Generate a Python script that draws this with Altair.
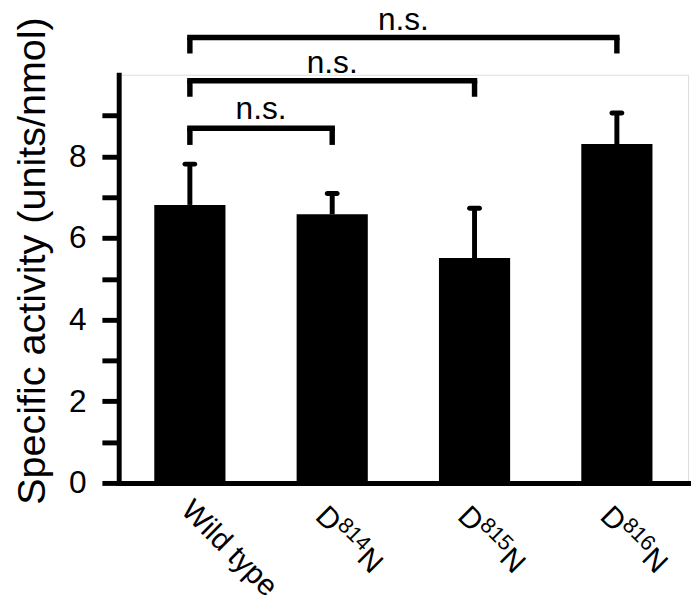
import altair as alt
import pandas as pd

FONT = "Liberation Sans"

# ---- data ----
label_base = ["Wild type", "D", "D", "D"]
label_sup = ["", "814", "815", "816"]
label_tail = ["", "N", "N", "N"]
activity = [6.81, 6.58, 5.51, 8.30]
error = [1.00, 0.51, 1.22, 0.76]

# significance brackets (category index from / to, bracket height, leg length, label)
bracket_from = [0, 0, 0]
bracket_to = [1, 2, 3]
bracket_level = [8.69, 9.85, 10.91]
bracket_leg = [0.41, 0.39, 0.39]
bracket_text = ["n.s.", "n.s.", "n.s."]
text_level = [8.91, 10.05, 11.09]

# ---- tables ----
n = len(label_base)
bars = pd.DataFrame({
    "pos": list(range(n)),
    "base": label_base,
    "sup": label_sup,
    "tail": label_tail,
    "value": activity,
    "err": error,
})
bars["x0"] = bars["pos"] - 0.25
bars["x1"] = bars["pos"] + 0.25
bars["top"] = bars["value"] + bars["err"]
bars["zero"] = 0.0

br = pd.DataFrame({
    "from": bracket_from,
    "to": bracket_to,
    "level": bracket_level,
    "leg": bracket_leg,
    "text": bracket_text,
    "tlevel": text_level,
})
br["bottom"] = br["level"] - br["leg"]
br["mid"] = (br["from"] + br["to"]) / 2

legs = pd.concat([
    pd.DataFrame({"x": br["from"], "level": br["level"], "bottom": br["bottom"]}),
    pd.DataFrame({"x": br["to"], "level": br["level"], "bottom": br["bottom"]}),
], ignore_index=True)

xscale = alt.Scale(domain=[-0.5, n - 0.5], nice=False, zero=False)
yscale = alt.Scale(domain=[0, 10], nice=False, zero=True)

xaxis = alt.Axis(
    values=list(range(n)),
    labels=False,
    ticks=False,
    grid=False,
    domainColor="black",
    domainWidth=5,
    domainCap="square",
    title=None,
)

yaxis = alt.Axis(
    values=list(range(10)),
    labelExpr="datum.value % 2 === 0 ? datum.label : ''",
    labelFontSize=32,
    labelFont=FONT,
    labelColor="black",
    labelPadding=16,
    tickSize=17,
    tickWidth=5,
    tickColor="black",
    domainColor="black",
    domainWidth=5,
    domainCap="square",
    grid=False,
    title="Specific activity (units/nmol)",
    titleFont=FONT,
    titleFontSize=40,
    titleFontWeight="normal",
    titleColor="black",
    titleAngle=-90,
    titleAlign="center",
    titleBaseline="alphabetic",
    titleX=-75,
    titleY=188,
)

base_bars = alt.Chart(bars)

bar_layer = base_bars.mark_rect(color="black").encode(
    x=alt.X("x0:Q", scale=xscale, axis=xaxis),
    x2="x1:Q",
    y=alt.Y("value:Q", scale=yscale, axis=yaxis),
    y2="zero:Q",
)

err_layer = base_bars.mark_rule(color="black", strokeWidth=5).encode(
    x=alt.X("pos:Q", scale=xscale),
    y=alt.Y("value:Q", scale=yscale),
    y2="top:Q",
)

cap_layer = base_bars.mark_tick(
    color="black", orient="horizontal", size=15, thickness=5, cornerRadius=2.5, opacity=1
).encode(
    x=alt.X("pos:Q", scale=xscale),
    y=alt.Y("top:Q", scale=yscale),
)

# rotated category labels (base text, superscript, tail)
LBL = 30
SUP = 22
D_W = 0.722 * LBL
SUP_W = 3 * 0.556 * SUP
lbl_common = dict(font=FONT, color="black", angle=45, align="left", baseline="top")
enc_xy = dict(x=alt.X("pos:Q", scale=xscale), y=alt.Y("zero:Q", scale=yscale))

lbl_wt = base_bars.transform_filter("datum.sup == ''").mark_text(
    fontSize=LBL, dx=13.4, dy=4, **lbl_common
).encode(text="base:N", **enc_xy)
lbl_d = base_bars.transform_filter("datum.sup != ''").mark_text(
    fontSize=LBL, dx=12, dy=14, **lbl_common
).encode(text="base:N", **enc_xy)
lbl_sup = base_bars.transform_filter("datum.sup != ''").mark_text(
    fontSize=SUP, dx=12 + D_W + 0.5, dy=11, **lbl_common
).encode(text="sup:N", **enc_xy)
lbl_tail = base_bars.transform_filter("datum.sup != ''").mark_text(
    fontSize=LBL, dx=12 + D_W + 0.5 + SUP_W + 1, dy=14, **lbl_common
).encode(text="tail:N", **enc_xy)

hbar_layer = alt.Chart(br).mark_rule(color="black", strokeWidth=5.5, strokeCap="square").encode(
    x=alt.X("from:Q", scale=xscale),
    x2="to:Q",
    y=alt.Y("level:Q", scale=yscale),
)

leg_layer = alt.Chart(legs).mark_rule(color="black", strokeWidth=5.5).encode(
    x=alt.X("x:Q", scale=xscale),
    y=alt.Y("level:Q", scale=yscale),
    y2="bottom:Q",
)

text_layer = alt.Chart(br).mark_text(
    font=FONT, fontSize=32, color="black", align="center", baseline="alphabetic"
).encode(
    x=alt.X("mid:Q", scale=xscale),
    y=alt.Y("tlevel:Q", scale=yscale),
    text="text:N",
)

chart = alt.layer(
    bar_layer, err_layer, cap_layer, lbl_wt, lbl_d, lbl_sup, lbl_tail,
    hbar_layer, leg_layer, text_layer
).properties(
    width=576,
    height=413,
    autosize=alt.AutoSizeParams(type="none"),
    padding={"left": 112, "top": 64, "right": 4, "bottom": 120},
).configure_view(stroke=None).configure(background="white")

chart.save("out.html", embed_options={"renderer": "svg", "actions": False})
